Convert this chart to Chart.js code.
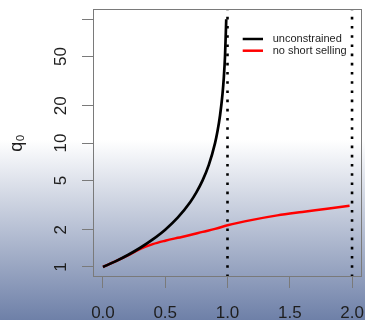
<!DOCTYPE html>
<html><head><meta charset="utf-8">
<script src="https://cdn.jsdelivr.net/npm/chart.js@4/dist/chart.umd.min.js"></script>
<style>
html,body{margin:0;padding:0;width:365px;height:320px;overflow:hidden;
background:linear-gradient(to bottom,#ffffff 0px,#ffffff 140px,#6e80a8 320px);}
#wrap{position:relative;width:365px;height:320px;}
</style></head><body>
<div id="wrap"><canvas id="c"></canvas></div>
<script>
// unconstrained (black)
const uncX = [0,0.1,0.2,0.3,0.4,0.5,0.6,0.7,0.75,0.8,0.85,0.9,0.92,0.94,0.96,0.97,0.98,0.99];
const uncY = [1,1.11,1.25,1.43,1.67,2,2.5,3.33,4,5,6.67,10,12.5,16.7,25,33.3,50,100];
// no short selling (red)
const nssX = [0,0.1,0.2,0.3,0.4,0.5,0.6,0.7,0.8,0.9,1.0,1.2,1.4,1.6,1.8,1.98];
const nssY = [1,1.11,1.24,1.40,1.53,1.63,1.72,1.81,1.92,2.03,2.17,2.40,2.61,2.78,2.95,3.12];
const vLines = [1,2];
const xTicks = [0,0.5,1,1.5,2];
const xTickLabels = ['0.0','0.5','1.0','1.5','2.0'];
const yTicks = [1,2,5,10,20,50,100];
const yTickLabels = ['1','2','5','10','20','50',''];
const seriesLabels = ['unconstrained','no short selling'];
const seriesColors = ['#000000','#ff0000'];
const yTitle = 'q\u2080';
const xMin = -0.08, xMax = 2.08, yMin = 0.83, yMax = 121;

const FONT = '"Liberation Sans", Arial, sans-serif';
const TXT = '#1e1e1e';
const AX = '#7a7a7a';

const datasets = [
  {label: seriesLabels[0], data: uncX.map((x,i)=>({x:x,y:uncY[i]})), borderColor: seriesColors[0], borderWidth: 2.7, pointRadius: 0, cubicInterpolationMode: 'monotone', fill:false},
  {label: seriesLabels[1], data: nssX.map((x,i)=>({x:x,y:nssY[i]})), borderColor: seriesColors[1], borderWidth: 2.5, pointRadius: 0, cubicInterpolationMode: 'monotone', fill:false}
];
vLines.forEach(v => datasets.push({label:'v'+v, data:[{x:v,y:yMin},{x:v,y:yMax}], borderColor:'#000', borderWidth:2.6, borderDash:[2.6,6.6], pointRadius:0, fill:false}));

const boxAndLegend = {
  id: 'boxAndLegend',
  afterDatasetsDraw(chart) {
    const {ctx, chartArea: a} = chart;
    ctx.save();
    ctx.strokeStyle = AX; ctx.lineWidth = 1;
    ctx.strokeRect(Math.round(a.left)+0.5, Math.round(a.top)+0.5, Math.round(a.right-a.left)-1, Math.round(a.bottom-a.top)-1);
    ctx.font = '11px ' + FONT;
    ctx.textBaseline = 'middle'; ctx.textAlign = 'left';
    seriesLabels.forEach((lab, i) => {
      const y = a.top + 30 + i*11.7;
      ctx.strokeStyle = seriesColors[i]; ctx.lineWidth = 2.5;
      ctx.beginPath(); ctx.moveTo(a.right - 119.3, y); ctx.lineTo(a.right - 99, y); ctx.stroke();
      ctx.fillStyle = TXT;
      ctx.fillText(lab, a.right - 89.3, y);
    });
    ctx.restore();
  }
};

new Chart(document.getElementById('c'), {
  type: 'line',
  data: {datasets},
  options: {
    responsive: true, maintainAspectRatio: false, animation: false, events: [],
    layout: {padding: {top: 9, right: 3, left: 0, bottom: 0}},
    plugins: {legend: {display:false}, tooltip:{enabled:false}},
    scales: {
      x: {
        type: 'linear', min: xMin, max: xMax,
        afterBuildTicks: s => { s.ticks = xTicks.map(v=>({value:v})); },
        afterFit: s => { s.height = 43; s.paddingLeft = 0; s.paddingRight = 0; },
        grid: {display:true, drawOnChartArea:false, drawTicks:true, tickLength:11, color:AX, tickColor:AX},
        border: {display:false},
        ticks: {autoSkip:false, maxRotation:0, padding:15, color:TXT, font:{family:FONT, size:17},
          callback: (v,i) => xTickLabels[i]}
      },
      y: {
        type: 'logarithmic', min: yMin, max: yMax,
        afterBuildTicks: s => { s.ticks = yTicks.map(v=>({value:v})); },
        afterFit: s => { s.width = 93; s.paddingTop = 0; s.paddingBottom = 0; },
        grid: {display:true, drawOnChartArea:false, drawTicks:true, tickLength:11, color:AX, tickColor:AX},
        border: {display:false},
        ticks: {autoSkip:false, minRotation:90, maxRotation:90, crossAlign:'center', padding:11, color:TXT, font:{family:FONT, size:17},
          callback: (v,i) => yTickLabels[i]},
        title: {display:true, text:yTitle, color:TXT, font:{family:FONT, size:18}, padding:{top:6,bottom:0}}
      }
    }
  },
  plugins: [boxAndLegend]
});
</script>
</body></html>
